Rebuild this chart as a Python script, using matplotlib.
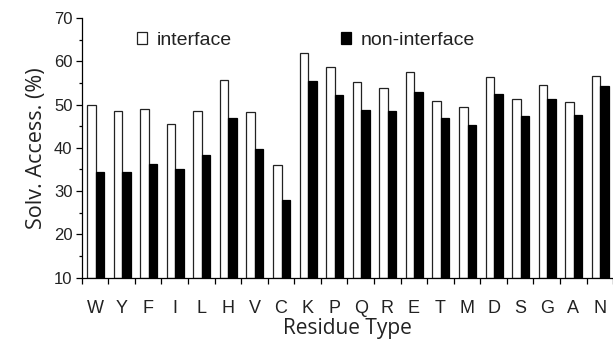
import matplotlib
matplotlib.use("Agg")
import matplotlib.pyplot as plt
import numpy as np
from matplotlib.ticker import MultipleLocator, FixedLocator, NullFormatter

residues = ["W", "Y", "F", "I", "L", "H", "V", "C", "K", "P",
            "Q", "R", "E", "T", "M", "D", "S", "G", "A", "N"]
interface = [50.0, 48.5, 48.9, 45.5, 48.5, 55.7, 48.2, 36.0, 61.9, 58.6,
             55.3, 53.9, 57.6, 50.9, 49.5, 56.3, 51.3, 54.5, 50.6, 56.6]
non_interface = [34.5, 34.3, 36.3, 35.1, 38.4, 47.0, 39.7, 28.0, 55.5, 52.2,
                 48.8, 48.6, 53.0, 46.9, 45.2, 52.4, 47.4, 51.3, 47.6, 54.2]

plt.rcParams['font.family'] = ['Liberation Sans', 'DejaVu Sans']

fig = plt.figure(figsize=(6.13, 3.39), dpi=100)
ax = fig.add_axes([0.1333, 0.181, 0.867, 0.766])

x = np.arange(len(residues))
w = 0.32
ax.bar(x - w / 2 + 0.02, np.array(interface) - 10, w, bottom=10, color='white',
       edgecolor='#222222', linewidth=0.9, label='interface')
ax.bar(x + w / 2 + 0.02, np.array(non_interface) - 10, w, bottom=10, color='black',
       edgecolor='black', linewidth=0.9, label='non-interface')

ax.set_xlim(-0.5, len(residues) - 0.5)
ax.set_ylim(10, 70)
ax.yaxis.set_major_locator(MultipleLocator(10))
ax.yaxis.set_minor_locator(MultipleLocator(5))
ax.set_xticks(x)
ax.set_xticklabels(residues, fontsize=13, color='#222222')
ax.tick_params(axis='x', which='major', length=0, pad=16)
ax.xaxis.set_minor_locator(FixedLocator(np.arange(-0.5, len(residues), 1.0)))
ax.xaxis.set_minor_formatter(NullFormatter())
ax.tick_params(axis='x', which='minor', length=4, width=0.9, direction='out')
ax.tick_params(axis='y', which='major', length=4.2, width=0.9, labelsize=12,
               pad=2.5, labelcolor='#222222')
ax.tick_params(axis='y', which='minor', length=2.5, width=0.9)

for s in ['top', 'right']:
    ax.spines[s].set_visible(False)
for s in ['left', 'bottom']:
    ax.spines[s].set_linewidth(0.9)

ax.set_ylabel('Solv. Access. (%)', fontsize=15.5, labelpad=5,
              family=['Open Sans', 'DejaVu Sans'], color='#222222')
ax.set_xlabel('Residue Type', fontsize=15, labelpad=1,
              family=['Open Sans', 'DejaVu Sans'], color='#222222')

ax.legend(ncol=2, loc='center left', bbox_to_anchor=(137.0 / 613, 1 - 40.5 / 339),
          bbox_transform=fig.transFigure, frameon=False,
          fontsize=14, handlelength=0.52, handleheight=0.6, handletextpad=0.5,
          columnspacing=5.6, borderaxespad=0, borderpad=0, labelcolor='#222222')

fig.savefig('out.png', dpi=100)
